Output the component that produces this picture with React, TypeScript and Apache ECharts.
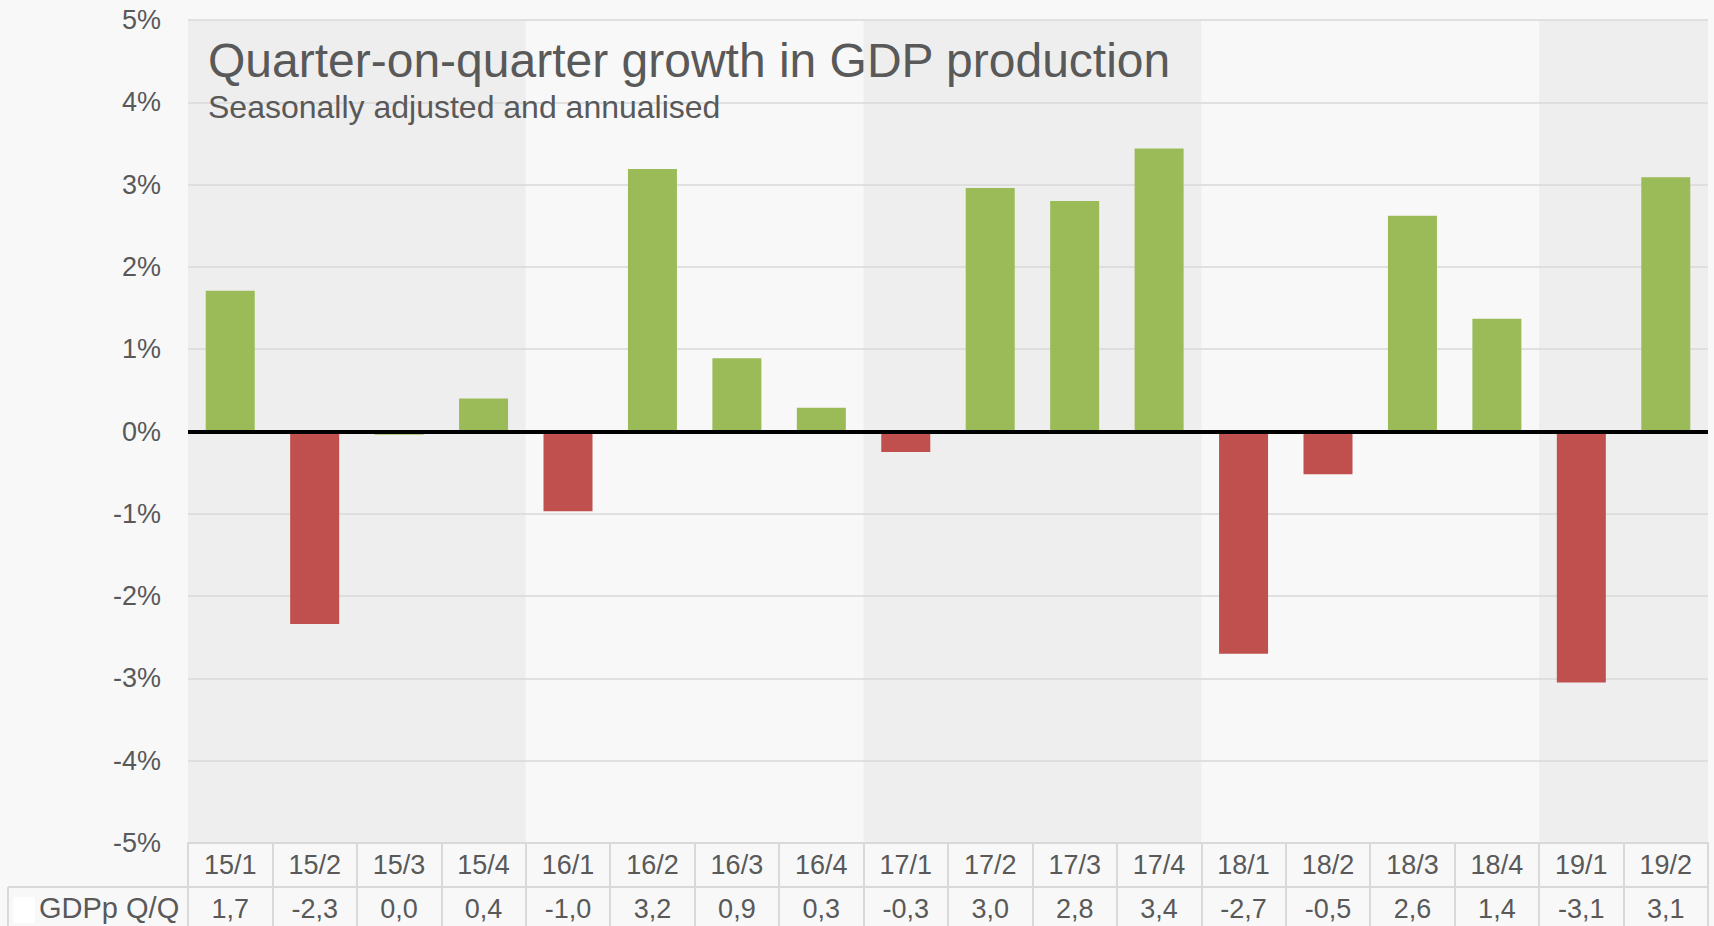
import React, { useEffect, useRef } from 'react';
import * as echarts from 'echarts';

const categories = ['15/1', '15/2', '15/3', '15/4', '16/1', '16/2', '16/3', '16/4', '17/1', '17/2', '17/3', '17/4', '18/1', '18/2', '18/3', '18/4', '19/1', '19/2'];
// bar heights
const barValues = [1.71, -2.34, -0.04, 0.4, -0.97, 3.19, 0.89, 0.29, -0.25, 2.96, 2.8, 3.44, -2.7, -0.52, 2.62, 1.37, -3.05, 3.09];
// printed values in the table row
const tableValues = [1.7, -2.3, 0.0, 0.4, -1.0, 3.2, 0.9, 0.3, -0.3, 3.0, 2.8, 3.4, -2.7, -0.5, 2.6, 1.4, -3.1, 3.1];
// shaded year bands, as category index ranges [start, end)
const bandStarts = [0, 8, 16];
const bandEnds = [4, 12, 18];
const yMin = -5;
const yMax = 5;
const yStep = 1;

const titleText = 'Quarter-on-quarter growth in GDP production';
const subtitleText = 'Seasonally adjusted and annualised';
const rowLabel = 'GDPp Q/Q';

const fmt = (v: number) => v.toFixed(1).replace('.', ',');

export default function App() {
  const ref = useRef<HTMLDivElement>(null);
  useEffect(() => {
    const chart = echarts.init(ref.current!, null, { renderer: 'svg' });
    const font = "'Liberation Sans', Arial, sans-serif";
    const textColor = '#595959';
    const gridColor = '#d9d9d9';
    const green = '#9bbb59';
    const red = '#c0504d';
    const bands = bandStarts.map((s, i) => [s, bandEnds[i]]);
    chart.setOption({
      animation: false,
      backgroundColor: '#f8f8f8',
      textStyle: { fontFamily: font },
      title: {
        text: titleText,
        subtext: subtitleText,
        left: 208,
        top: 36,
        padding: 0,
        itemGap: 7,
        textStyle: { fontFamily: font, fontSize: 48, lineHeight: 48, fontWeight: 'normal', color: textColor },
        subtextStyle: { fontFamily: font, fontSize: 32, lineHeight: 32, color: textColor },
      },
      grid: { left: 188, right: 6, top: 20, bottom: 83, containLabel: false },
      xAxis: [
        {
          type: 'category',
          data: categories,
          position: 'bottom',
          axisLine: { show: true, onZero: false, lineStyle: { color: gridColor, width: 2 } },
          axisTick: { show: true, interval: 0, length: 90, lineStyle: { color: gridColor, width: 2 } },
          axisLabel: {
            interval: 0,
            margin: 0,
            formatter: (v: string, i: number) => `{c|${v}}\n{v|${fmt(tableValues[i])}}`,
            rich: {
              c: { fontFamily: font, fontSize: 27, lineHeight: 44, color: textColor },
              v: { fontFamily: font, fontSize: 27, lineHeight: 44, color: textColor },
            },
          },
          splitLine: { show: false },
        },
        { type: 'value', min: 0, max: categories.length, show: false },
      ],
      yAxis: {
        type: 'value',
        min: yMin,
        max: yMax,
        interval: yStep,
        axisLabel: { formatter: '{value}%', fontFamily: font, fontSize: 27, color: textColor, margin: 27 },
        splitLine: { lineStyle: { color: gridColor, width: 1.5 } },
        axisLine: { show: false },
        axisTick: { show: false },
      },
      series: [
        {
          type: 'custom',
          xAxisIndex: 1,
          z: -1,
          silent: true,
          data: bands,
          renderItem: (params: any, api: any) => {
            const p0 = api.coord([api.value(0), yMax]);
            const p1 = api.coord([api.value(1), yMin]);
            return {
              type: 'rect',
              shape: { x: p0[0], y: p0[1], width: p1[0] - p0[0], height: p1[1] - p0[1] },
              style: { fill: '#eeeeee' },
            };
          },
        },
        {
          type: 'bar',
          xAxisIndex: 0,
          barWidth: 49,
          data: barValues.map((v, i) => ({ value: v, itemStyle: { color: tableValues[i] >= 0 ? green : red } })),
          markLine: {
            silent: true,
            symbol: 'none',
            z: 10,
            label: { show: false },
            lineStyle: { color: '#000000', width: 4, type: 'solid' },
            data: [{ yAxis: 0 }],
          },
        },
      ],
      graphic: [
        { type: 'line', shape: { x1: 8, y1: 887, x2: 1708, y2: 887 }, style: { stroke: gridColor, lineWidth: 2 } },
        { type: 'line', shape: { x1: 8, y1: 887, x2: 8, y2: 930 }, style: { stroke: gridColor, lineWidth: 2 } },
        { type: 'rect', shape: { x: 13, y: 897, width: 22, height: 26 }, style: { fill: '#ffffff' } },
        {
          type: 'text',
          x: 39,
          y: 908,
          style: { text: rowLabel, fontFamily: font, fontSize: 29, fill: textColor, verticalAlign: 'middle', align: 'left' },
        },
      ],
    });
    return () => chart.dispose();
  }, []);
  return <div ref={ref} style={{ position: 'fixed', left: 0, top: 0, width: 1714, height: 926 }} />;
}
